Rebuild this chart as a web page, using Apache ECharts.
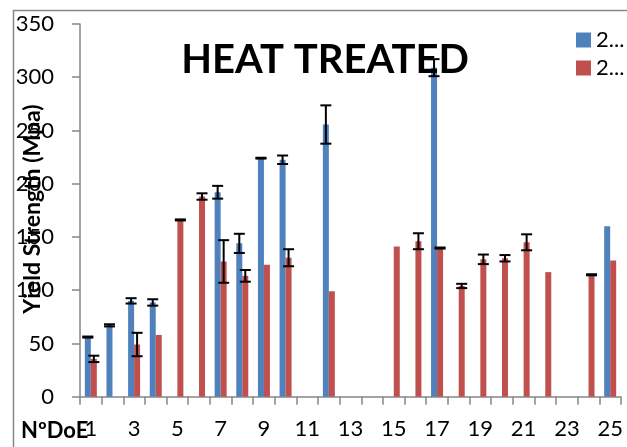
<!DOCTYPE html>
<html>
<head>
<meta charset="utf-8">
<script src="https://cdn.jsdelivr.net/npm/echarts@6/dist/echarts.min.js"></script>
<style>html,body{margin:0;padding:0;background:#fff;}#c{width:627px;height:447px;}</style>
</head>
<body>
<div id="c"></div>
<script>
var categories = ['1','2','3','4','5','6','7','8','9','10','11','12','13','14','15','16','17','18','19','20','21','22','23','24','25'];
var seriesNames = ['2...', '2...'];
var blueValues = [56, 67, 90, 88.5, null, null, 192, 144, 224, 222.5, null, 255.6, null, null, null, null, 309, null, null, null, null, null, null, null, 160];
var blueErrors = [0.5, 1, 2.5, 3, null, null, 6, 9, 0.4, 4, null, 18, null, null, null, null, 8, null, null, null, null, null, null, null, null];
var redValues = [35.5, null, 49, 58, 166, 188, 127, 113.5, 124, 130.5, null, 99, null, null, 141, 146, 139.6, 104, 129, 130, 145, 117, null, 114.5, 128];
var redErrors = [3, null, 11, null, 0.5, 3, 20, 5.5, null, 8, null, null, null, null, null, 7.5, 0.5, 2, 4.5, 3, 7.5, null, null, 0.5, null];
var yTicks = [0, 50, 100, 150, 200, 250, 300, 350];

function errData(vals, errs) {
  var out = [];
  for (var i = 0; i < vals.length; i++) {
    if (vals[i] != null && errs[i] != null) out.push([i, vals[i], errs[i]]);
  }
  return out;
}
function errRender(offset) {
  return function (params, api) {
    var i = api.value(0), v = api.value(1), e = api.value(2);
    var hi = api.coord([i, v + e]);
    var lo = api.coord([i, v - e]);
    var x = hi[0] + offset;
    var w = 5.5;
    var st = { stroke: '#000', lineWidth: 2 };
    return { type: 'group', children: [
      { type: 'line', shape: { x1: x, y1: hi[1], x2: x, y2: lo[1] }, style: st },
      { type: 'line', shape: { x1: x - w, y1: hi[1], x2: x + w, y2: hi[1] }, style: st },
      { type: 'line', shape: { x1: x - w, y1: lo[1], x2: x + w, y2: lo[1] }, style: st }
    ]};
  };
}

var chart = echarts.init(document.getElementById('c'));
var font = 'Lato, "Open Sans", sans-serif';
chart.setOption({
  animation: false,
  grid: { left: 80, right: 6, top: 24, bottom: 50.3, containLabel: false },
  legend: {
    left: 576, top: 29, orient: 'vertical', itemWidth: 15, itemHeight: 15, itemGap: 6, padding: 0,
    textStyle: { fontFamily: font, fontSize: 22, lineHeight: 15, color: '#000' },
    data: [{ name: 'A', icon: 'rect' }, { name: 'B', icon: 'rect' }],
    formatter: function () { return seriesNames[0]; }
  },
  xAxis: {
    type: 'category', data: categories, boundaryGap: true,
    axisLine: { lineStyle: { color: '#868686', width: 1.5 } },
    axisTick: { show: true, interval: 0, length: 8, lineStyle: { color: '#868686', width: 1.5 } },
    axisLabel: { interval: 1, fontFamily: font, fontSize: 22, color: '#000', margin: 21 },
    splitLine: { show: false }
  },
  yAxis: {
    type: 'value', min: 0, max: 350, interval: 50,
    axisLine: { show: true, lineStyle: { color: '#868686', width: 1.5 } },
    axisTick: { show: true, length: 8, lineStyle: { color: '#868686', width: 1.5 } },
    axisLabel: { fontFamily: font, fontSize: 22, color: '#000', margin: 26,
      formatter: function (v) { return yTicks.indexOf(v) >= 0 ? String(v) : ''; } },
    splitLine: { show: false }
  },
  series: [
    { name: 'A', type: 'bar', data: blueValues, barWidth: 6, barGap: '0%', itemStyle: { color: '#4F81BD' } },
    { name: 'B', type: 'bar', data: redValues, barWidth: 6, barGap: '0%', itemStyle: { color: '#C0504D' } },
    { type: 'custom', data: errData(blueValues, blueErrors), renderItem: errRender(-3), z: 5, encode: { x: 0, y: 1 } },
    { type: 'custom', data: errData(redValues, redErrors), renderItem: errRender(3), z: 5, encode: { x: 0, y: 1 } }
  ],
  graphic: [
    { type: 'rect', left: 11, top: 8, shape: { width: 640, height: 460 }, style: { fill: 'none', stroke: '#868686', lineWidth: 1.5 }, silent: true, z: -1 },
    { type: 'text', x: 325, y: 60, style: { text: 'HEAT TREATED', fontFamily: font, fontWeight: 'bold', fontSize: 40, fill: '#000', textAlign: 'center', textVerticalAlign: 'middle' }, z: 10 },
    { type: 'text', x: 33, y: 209, rotation: Math.PI / 2, style: { text: 'Yield Strength (Mpa)', fontFamily: font, fontWeight: 'bold', fontSize: 23, fill: '#000', textAlign: 'center', textVerticalAlign: 'middle' }, z: 10 },
    { type: 'text', x: 21, y: 431, style: { text: 'NºDoE', fontFamily: font, fontWeight: 'bold', fontSize: 22, fill: '#000', textAlign: 'left', textVerticalAlign: 'middle' }, z: 10 }
  ]
});
</script>
</body>
</html>
